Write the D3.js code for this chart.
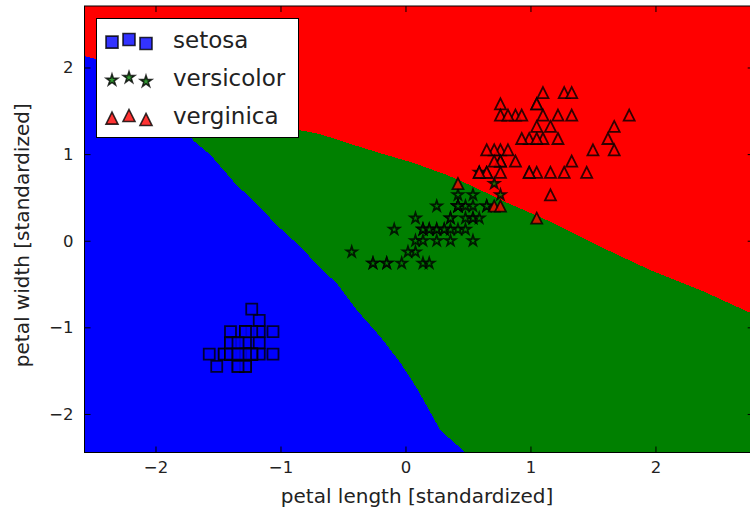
<!DOCTYPE html>
<html>
<head>
<meta charset="utf-8">
<script src="https://cdn.jsdelivr.net/npm/d3@7"></script>
<style>
body { margin: 0; background: #fff; }
svg { display: block; font-family: "DejaVu Sans", sans-serif; }
</style>
</head>
<body>
<div id="chart"></div>
<script>
// grid extents (feature min - 1 .. max + 1, standardized)
const xDomain = [-2.568, 2.786];
const yDomain = [-2.445, 2.710];
const xTicks = [-2, -1, 0, 1, 2];
const yTicks = [-2, -1, 0, 1, 2];

const classNames = ["setosa", "versicolor", "verginica"];
const classColors = ["blue", "green", "red"];

// standardized petal length / petal width per class
const setosaX = [-1.34,-1.34,-1.40,-1.28,-1.34,-1.17,-1.34,-1.28,-1.34,-1.28,
  -1.28,-1.23,-1.34,-1.51,-1.45,-1.28,-1.40,-1.34,-1.17,-1.28,
  -1.17,-1.28,-1.57,-1.17,-1.06,-1.23,-1.23,-1.28,-1.34,-1.23,
  -1.23,-1.28,-1.28,-1.34,-1.28,-1.45,-1.40,-1.34,-1.40,-1.28,
  -1.40,-1.40,-1.40,-1.23,-1.06,-1.34,-1.23,-1.34,-1.28,-1.34];
const setosaY = [-1.31,-1.31,-1.31,-1.31,-1.31,-1.05,-1.18,-1.31,-1.31,-1.45,
  -1.31,-1.31,-1.45,-1.45,-1.31,-1.05,-1.05,-1.18,-1.18,-1.18,
  -1.31,-1.05,-1.31,-0.92,-1.31,-1.31,-1.05,-1.31,-1.31,-1.31,
  -1.31,-1.05,-1.45,-1.31,-1.31,-1.31,-1.31,-1.45,-1.31,-1.31,
  -1.18,-1.18,-1.31,-0.79,-1.05,-1.18,-1.31,-1.31,-1.31,-1.31];
const versicolorX = [0.54,0.42,0.65,0.14,0.48,0.42,0.54,-0.26,0.48,0.08,
  -0.15,0.25,0.14,0.54,-0.09,0.36,0.42,0.19,0.42,0.08,
  0.59,0.14,0.65,0.54,0.31,0.36,0.59,0.71,0.42,-0.15,
  0.02,-0.03,0.08,0.76,0.42,0.42,0.54,0.36,0.19,0.14,
  0.36,0.48,0.14,-0.26,0.25,0.25,0.25,0.31,-0.43,0.19];
const versicolorY = [0.26,0.40,0.40,0.13,0.40,0.13,0.53,-0.26,0.13,0.26,
  -0.26,0.40,-0.26,0.26,0.13,0.26,0.40,-0.26,0.40,-0.13,
  0.79,0.13,0.40,0.00,0.13,0.26,0.26,0.66,0.40,-0.26,
  -0.13,-0.26,0.00,0.53,0.40,0.53,0.40,0.13,0.13,0.13,
  0.00,0.26,0.00,-0.26,0.13,0.00,0.13,0.13,-0.13,0.13];
const virginicaX = [1.27,0.76,1.22,1.05,1.16,1.62,0.42,1.45,1.16,1.33,
  0.76,0.88,0.99,0.71,0.76,0.88,0.99,1.67,1.79,0.71,
  1.10,0.65,1.67,0.65,1.10,1.27,0.59,0.65,1.05,1.16,
  1.33,1.50,1.05,0.76,1.05,1.33,1.05,0.99,0.59,0.93,
  1.05,0.76,0.76,1.22,1.10,0.82,0.71,0.82,0.93,0.76];
const virginicaY = [1.71,0.92,1.18,0.79,1.32,1.18,0.66,0.79,0.79,1.71,
  1.05,0.92,1.18,1.05,1.58,1.45,0.79,1.32,1.45,0.40,
  1.45,1.05,1.05,0.79,1.18,0.79,0.79,0.79,1.18,0.53,
  0.92,1.05,1.32,0.40,0.26,1.45,1.58,0.79,0.79,1.18,
  1.58,1.45,0.92,1.45,1.71,1.45,0.92,1.05,1.45,0.79];

// decision boundaries, traced off the filled regions (data units)
const boundaryBlueRed = [[-2.568,2.13],[-2.48,2.10],[-2.12,1.76],[-1.76,1.30]];
const boundaryBlueGreen = [[-1.76,1.30],[-1.70,1.16],[-1.56,0.99],[-1.35,0.64],[-1.22,0.47],
  [-1.03,0.18],[-0.84,-0.07],[-0.68,-0.32],[-0.55,-0.49],[-0.39,-0.80],[-0.20,-1.11],
  [-0.04,-1.41],[0.09,-1.70],[0.28,-2.19],[0.48,-2.445]];
const boundaryGreenRed = [[-1.76,1.30],[-1.32,1.30],[-0.86,1.28],[-0.68,1.23],[-0.47,1.13],
  [-0.20,1.01],[0.06,0.90],[0.33,0.76],[0.52,0.64],[0.81,0.44],[1.16,0.22],[1.56,-0.07],
  [1.96,-0.34],[2.36,-0.57],[2.786,-0.85]];

const samples = [
  {xs: setosaX, ys: setosaY},
  {xs: versicolorX, ys: versicolorY},
  {xs: virginicaX, ys: virginicaY}
];

// matplotlib-like marker shapes, size = full marker extent in px
const mplSquare = {draw(ctx, s) { ctx.rect(-s / 2, -s / 2, s, s); }};
const mplTriangle = {draw(ctx, s) {
  const h = s / 2;
  ctx.moveTo(0, -h); ctx.lineTo(h, h); ctx.lineTo(-h, h); ctx.closePath();
}};
const mplStar = {draw(ctx, s) {
  const R = s / 2, r = R * 0.381966;
  for (let i = 0; i < 10; i++) {
    const a = -Math.PI / 2 + i * Math.PI / 5, rad = i % 2 ? r : R;
    if (i === 0) ctx.moveTo(rad * Math.cos(a), rad * Math.sin(a));
    else ctx.lineTo(rad * Math.cos(a), rad * Math.sin(a));
  }
  ctx.closePath();
}};
const markers = [mplSquare, mplStar, mplTriangle];
const markerSize = 11;

const width = 750, height = 521;
const plot = {left: 84.5, right: 753.7, top: 6, bottom: 452.5};

const x = d3.scaleLinear().domain(xDomain).range([plot.left, plot.right]);
const y = d3.scaleLinear().domain(yDomain).range([plot.bottom, plot.top]);

const svg = d3.select("#chart").append("svg")
  .attr("width", width)
  .attr("height", height);

svg.append("clipPath").attr("id", "plot-clip")
  .append("rect")
  .attr("x", plot.left).attr("y", plot.top)
  .attr("width", plot.right - plot.left).attr("height", plot.bottom - plot.top);

const area = svg.append("g").attr("clip-path", "url(#plot-clip)");

// regions
const x0 = xDomain[0], x1 = xDomain[1], y0 = yDomain[0], y1 = yDomain[1];
const regionBlue = [[x0, y0]].concat(boundaryBlueRed, boundaryBlueGreen.slice(1));
const regionRed = [[x0, y1]].concat(boundaryBlueRed, boundaryGreenRed.slice(1), [[x1, y1]]);
const regionGreen = boundaryGreenRed.concat([[x1, y0]], boundaryBlueGreen.slice().reverse());

const line = d3.line().x(d => x(d[0])).y(d => y(d[1]));
area.selectAll("path.region")
  .data([regionBlue, regionGreen, regionRed])
  .enter().append("path")
    .attr("class", "region")
    .attr("d", d => line(d) + "Z")
    .attr("fill", (d, i) => classColors[i])
    .attr("shape-rendering", "crispEdges");

// samples
samples.forEach((cls, ci) => {
  const sym = d3.symbol().type(markers[ci]).size(markerSize);
  area.append("g").selectAll("path")
    .data(d3.range(cls.xs.length))
    .enter().append("path")
      .attr("d", sym)
      .attr("transform", i => `translate(${x(cls.xs[i])},${y(cls.ys[i])})`)
      .attr("fill", classColors[ci])
      .attr("fill-opacity", 0.8)
      .attr("stroke", "black")
      .attr("stroke-opacity", 0.8)
      .attr("stroke-width", 1.8);
});

// axes, ticks pointing inwards on all sides
const tickFont = 16.5;
const fmt = d3.format("d");
function styleAxis(g) {
  g.select(".domain").remove();
  g.attr("font-family", null).attr("font-size", tickFont);
  g.selectAll(".tick text").attr("fill", "#222");
  g.selectAll(".tick line").attr("stroke", "black");
}
svg.append("g")
  .attr("transform", `translate(0,${plot.bottom})`)
  .call(d3.axisBottom(x).tickValues(xTicks).tickFormat(fmt).tickSizeInner(-6).tickSizeOuter(0).tickPadding(9))
  .call(styleAxis);
svg.append("g")
  .attr("transform", `translate(0,${plot.top})`)
  .call(d3.axisTop(x).tickValues(xTicks).tickSizeInner(-6).tickSizeOuter(0).tickFormat(""))
  .call(styleAxis);
svg.append("g")
  .attr("transform", `translate(${plot.left},0)`)
  .call(d3.axisLeft(y).tickValues(yTicks).tickFormat(fmt).tickSizeInner(-6).tickSizeOuter(0).tickPadding(11))
  .call(styleAxis);
svg.append("g")
  .attr("transform", `translate(${plot.right},0)`)
  .call(d3.axisRight(y).tickValues(yTicks).tickSizeInner(-6).tickSizeOuter(0).tickFormat(""))
  .call(styleAxis);

svg.append("rect")
  .attr("x", plot.left).attr("y", plot.top)
  .attr("width", plot.right - plot.left).attr("height", plot.bottom - plot.top)
  .attr("fill", "none").attr("stroke", "black").attr("stroke-width", 1);

// axis labels
svg.append("text")
  .attr("x", (plot.left + plot.right) / 2 - 2)
  .attr("y", 503)
  .attr("text-anchor", "middle")
  .attr("font-size", 20)
  .attr("fill", "#222")
  .text("petal length [standardized]");
svg.append("text")
  .attr("transform", `translate(29,${(plot.top + plot.bottom) / 2 + 6}) rotate(-90)`)
  .attr("text-anchor", "middle")
  .attr("font-size", 20)
  .attr("fill", "#222")
  .text("petal width [standardized]");

// legend
const legend = svg.append("g");
legend.append("rect")
  .attr("x", 96.5).attr("y", 18.5)
  .attr("width", 202).attr("height", 119)
  .attr("fill", "white").attr("stroke", "black").attr("stroke-width", 1);
const handleX = [112, 129, 146];
const handleYOffsets = [0.375, 0.5, 0.3125]; // matplotlib scatteryoffsets
const handleH = 21;
classNames.forEach((name, ci) => {
  const rowY = 39.5 + ci * 38;
  const sym = d3.symbol().type(markers[ci]).size(markerSize + 1);
  handleX.forEach((hx, k) => {
    legend.append("path")
      .attr("d", sym)
      .attr("transform", `translate(${hx},${rowY + handleH * (0.5 - handleYOffsets[k])})`)
      .attr("fill", classColors[ci])
      .attr("fill-opacity", 0.8)
      .attr("stroke", "black")
      .attr("stroke-opacity", 0.8)
      .attr("stroke-width", 1.6);
  });
  legend.append("text")
    .attr("x", 173)
    .attr("y", rowY + 8)
    .attr("font-size", 23)
    .attr("fill", "#222")
    .text(name);
});
</script>
</body>
</html>
